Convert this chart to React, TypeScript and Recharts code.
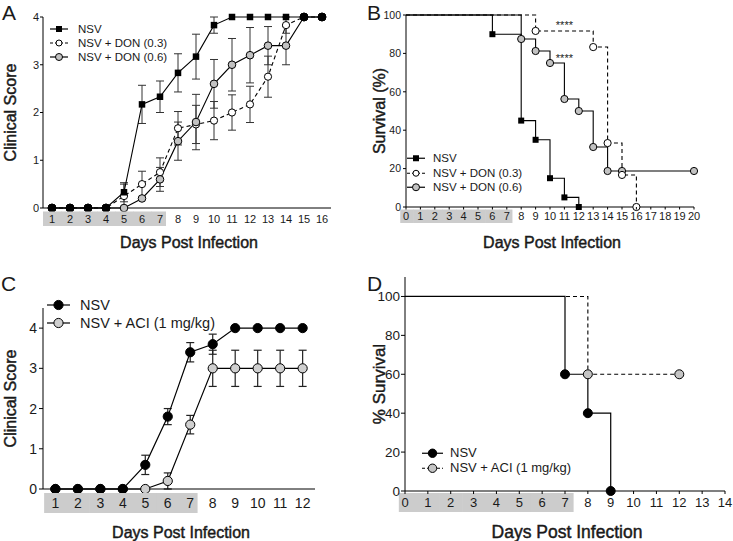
import React from "react";
import { LineChart, Line, XAxis, YAxis, ErrorBar, ReferenceDot } from "recharts";

const FONT = '"Liberation Sans", Arial, Helvetica, sans-serif';
const INK = "#1a1a1a";
const SHADE = "#cccccc";
const GREY = "#c2c2c2";

// ---- A: clinical score, DON treatment ----
const daysA = [1, 2, 3, 4, 5, 6, 7, 8, 9, 10, 11, 12, 13, 14, 15, 16];
const nsvA = [0, 0, 0, 0, 0.33, 2.17, 2.33, 2.83, 3.17, 3.83, 4, 4, 4, 4, 4, 4];
const nsvErrA = [null, null, null, null, 0.2, 0.4, 0.33, 0.4, 0.47, 0.17, null, null, null, null, null, null];
const don03A = [0, 0, 0, 0, 0.25, 0.5, 0.75, 1.67, 1.75, 1.83, 2.0, 2.17, 2.75, 3.83, 4, 4];
const don03ErrA = [null, null, null, null, 0.25, 0.27, 0.3, 0.35, 0.4, 0.4, 0.37, 0.38, 0.43, 0.17, null, null];
const don06A = [0, 0, 0, 0, 0, 0.2, 0.6, 1.4, 1.8, 2.6, 3.0, 3.2, 3.4, 3.4, 4, 4];
const don06ErrA = [null, null, null, null, null, null, 0.25, 0.4, 0.58, 0.51, 0.55, 0.58, 0.4, 0.4, null, null];

// ---- B: survival, DON treatment ----
const nsvDaysB = [0, 6, 8, 9, 10, 11, 12];
const nsvPctB = [100, 90, 45, 35, 15, 5, 0];
const don03DaysB = [0, 9, 13, 14, 15, 16];
const don03PctB = [100, 91.7, 83.3, 33.3, 16.7, 0];
const don06DaysB = [0, 8, 9, 10, 11, 12, 13, 14, 15, 20];
const don06PctB = [100, 87.5, 81.25, 75, 56.25, 50, 31.25, 18.75, 18.75, 18.75];
const sigB = [
  { day: 11, pct: 94.8 },
  { day: 11, pct: 77.6 },
];

// ---- C: clinical score, ACI ----
const daysC = [1, 2, 3, 4, 5, 6, 7, 8, 9, 10, 11, 12];
const nsvC = [0, 0, 0, 0, 0.6, 1.8, 3.4, 3.6, 4, 4, 4, 4];
const nsvErrC = [null, null, null, null, 0.24, 0.2, 0.24, 0.25, null, null, null, null];
const aciC = [0, 0, 0, 0, 0, 0.2, 1.6, 3, 3, 3, 3, 3];
const aciErrC = [null, null, null, null, null, 0.2, 0.23, 0.45, 0.45, 0.45, 0.45, 0.45];

// ---- D: survival, ACI ----
const nsvDaysD = [0, 7, 8, 9];
const nsvPctD = [100, 60, 40, 0];
const aciDaysD = [0, 8, 12];
const aciPctD = [100, 60, 60];

const rowsA = daysA.map((day, i) => ({
  day,
  nsv: nsvA[i],
  nsvErr: nsvErrA[i],
  don03: don03A[i],
  don03Err: don03ErrA[i],
  don06: don06A[i],
  don06Err: don06ErrA[i],
}));
const rowsC = daysC.map((day, i) => ({
  day,
  nsv: nsvC[i],
  nsvErr: nsvErrC[i],
  aci: aciC[i],
  aciErr: aciErrC[i],
}));
const surv = (days: number[], pct: number[]) => days.map((day, i) => ({ day, pct: pct[i] }));

const range = (a: number, b: number) => Array.from({ length: b - a + 1 }, (_, i) => a + i);

type TickOpts = { step: number; from: number; to: number; fs: number; top: number; h: number; mark: number };
const makeTick = (o: TickOpts) => (props: any) => {
  const { x, y, payload } = props;
  const v = payload.value;
  const left = Math.max(v - 0.5, o.from);
  const right = Math.min(v + 0.5, o.to);
  return (
    <g>
      {v < o.to && (
        <rect x={x + (left - v) * o.step} y={y + o.top} width={(right - left) * o.step + 0.6} height={o.h} fill={SHADE} />
      )}
      {o.mark > 0 && <line x1={x} x2={x} y1={y} y2={y + o.mark} stroke="#000" />}
      <text x={x} y={y + o.top + o.h / 2} textAnchor="middle" dominantBaseline="central" fontSize={o.fs} fill={INK} fontFamily={FONT}>
        {v}
      </text>
    </g>
  );
};

// medium-weight look: regular face with a hairline stroke
const titleProps = { fill: INK, stroke: INK, strokeWidth: 0.45, fontFamily: FONT };

const xTitle = (dy: number, fs: number) => ({ viewBox }: any) => (
  <text x={viewBox.x + viewBox.width / 2 + 2} y={viewBox.y + dy} textAnchor="middle" dominantBaseline="central" fontSize={fs} {...titleProps}>
    Days Post Infection
  </text>
);
const yTitle = (text: string, dx: number, fs: number) => ({ viewBox }: any) => {
  const cx = viewBox.x + dx;
  const cy = viewBox.y + viewBox.height / 2;
  return (
    <text x={cx} y={cy} transform={`rotate(-90 ${cx} ${cy})`} textAnchor="middle" dominantBaseline="central" fontSize={fs} {...titleProps}>
      {text}
    </text>
  );
};

const marker = (shape: string, cx: number, cy: number, size: number, fill: string, key?: string) =>
  shape === "square" ? (
    <rect key={key} x={cx - size / 2} y={cy - size / 2} width={size} height={size} fill="#000" />
  ) : (
    <circle key={key} cx={cx} cy={cy} r={size} fill={fill} stroke="#000" strokeWidth={1} />
  );

const nsvDotA = (p: any) => {
  const r = p.payload;
  if (r.nsv === r.don03 && r.nsv === r.don06) return marker("circle", p.cx, p.cy, 4, "#000", `a${p.index}`);
  return marker("square", p.cx, p.cy, 6.5, "#000", `a${p.index}`);
};
const plainDot = (shape: string, size: number, fill: string) => (p: any) => marker(shape, p.cx, p.cy, size, fill, `d${p.index}`);
const survDot = (shape: string, size: number, fill: string) => (p: any) =>
  p.index === 0 ? <g key={`s${p.index}`} /> : marker(shape, p.cx, p.cy, size, fill, `s${p.index}`);

const starLabel = ({ viewBox }: any) => (
  <text x={viewBox.x + viewBox.width / 2} y={viewBox.y + viewBox.height / 2 + 4} textAnchor="middle" fontSize={11} fill={INK} fontFamily={FONT}>
    ****
  </text>
);

type KeyItem = { name: string; dash?: string; shape: string; fill: string; size: number };
function KeyBox({ items, left, top, rowH, symW, gap, fs }: { items: KeyItem[]; left: number; top: number; rowH: number; symW: number; gap: number; fs: number }) {
  return (
    <div style={{ position: "absolute", left, top, fontFamily: FONT, fontSize: fs, color: INK }}>
      {items.map((it) => (
        <div key={it.name} style={{ display: "flex", alignItems: "center", height: rowH }}>
          <svg width={symW} height={rowH} style={{ display: "block", overflow: "visible" }}>
            <line x1={0} x2={symW} y1={rowH / 2} y2={rowH / 2} stroke="#000" strokeWidth={1.2} strokeDasharray={it.dash} />
            {marker(it.shape, symW / 2, rowH / 2, it.size, it.fill)}
          </svg>
          <span style={{ marginLeft: gap, whiteSpace: "nowrap", lineHeight: `${rowH}px` }}>{it.name}</span>
        </div>
      ))}
    </div>
  );
}

const letter = (ch: string, left: number, top: number) => (
  <div style={{ position: "absolute", left, top, fontSize: 21, lineHeight: "21px", fontFamily: FONT, color: INK }}>{ch}</div>
);

const axisLine = { stroke: "#000", strokeWidth: 1 };
const tickLine = { stroke: "#000" };

export default function App() {
  return (
    <div style={{ position: "absolute", left: 0, top: 0, width: 733, height: 541, background: "#fff", fontFamily: FONT }}>
      {/* A */}
      <div style={{ position: "absolute", left: 0, top: 0, width: 366, height: 270 }}>
        <LineChart width={366} height={270} data={rowsA} margin={{ top: 17, right: 35, left: 0, bottom: 0 }}>
          <XAxis
            dataKey="day"
            type="number"
            domain={[0.5, 16.5]}
            ticks={daysA}
            interval={0}
            height={62}
            tickLine={false}
            tickSize={0}
            tickMargin={0}
            axisLine={axisLine}
            tick={makeTick({ step: 18, from: 0.5, to: 7.3, fs: 11, top: 3.5, h: 14.5, mark: 0 })}
            label={xTitle(34, 16)}
          />
          <YAxis
            type="number"
            domain={[0, 4]}
            ticks={[0, 1, 2, 3, 4]}
            width={43}
            tickSize={3}
            tickMargin={1}
            axisLine={axisLine}
            tickLine={tickLine}
            tick={{ fontSize: 11, fill: INK, fontFamily: FONT }}
            label={yTitle("Clinical Score", 10, 16)}
          />
          <Line dataKey="don03" stroke="#000" strokeWidth={1.1} strokeDasharray="4 3" isAnimationActive={false} dot={plainDot("circle", 3.6, "#fff")} activeDot={false}>
            <ErrorBar dataKey="don03Err" width={4} stroke="#333" strokeWidth={1} direction="y" />
          </Line>
          <Line dataKey="don06" stroke="#000" strokeWidth={1.1} isAnimationActive={false} dot={plainDot("circle", 3.8, GREY)} activeDot={false}>
            <ErrorBar dataKey="don06Err" width={4} stroke="#333" strokeWidth={1} direction="y" />
          </Line>
          <Line dataKey="nsv" stroke="#000" strokeWidth={1.1} isAnimationActive={false} dot={nsvDotA} activeDot={false}>
            <ErrorBar dataKey="nsvErr" width={4} stroke="#333" strokeWidth={1} direction="y" />
          </Line>
        </LineChart>
        <KeyBox
          left={50}
          top={22}
          rowH={14}
          symW={18}
          gap={10}
          fs={11.5}
          items={[
            { name: "NSV", shape: "square", fill: "#000", size: 6 },
            { name: "NSV + DON (0.3)", dash: "3 2", shape: "circle", fill: "#fff", size: 3 },
            { name: "NSV + DON (0.6)", shape: "circle", fill: GREY, size: 3.5 },
          ]}
        />
        {letter("A", 2, 2)}
      </div>

      {/* B */}
      <div style={{ position: "absolute", left: 366, top: 0, width: 367, height: 270 }}>
        <LineChart width={367} height={270} margin={{ top: 15, right: 39, left: 0, bottom: 0 }}>
          <XAxis
            dataKey="day"
            type="number"
            domain={[0, 20]}
            ticks={range(0, 20)}
            interval={0}
            height={63}
            tickLine={false}
            tickSize={0}
            tickMargin={0}
            axisLine={axisLine}
            tick={makeTick({ step: 14.4, from: -0.4, to: 7.35, fs: 11, top: 2.5, h: 13.5, mark: 2.5 })}
            label={xTitle(35, 16)}
          />
          <YAxis
            type="number"
            dataKey="pct"
            domain={[0, 100]}
            ticks={[0, 20, 40, 60, 80, 100]}
            width={40}
            tickSize={3}
            tickMargin={2}
            axisLine={axisLine}
            tickLine={tickLine}
            tick={{ fontSize: 10.5, fill: INK, fontFamily: FONT }}
            label={yTitle("Survival (%)", 13, 16)}
          />
          <Line data={surv(nsvDaysB, nsvPctB)} dataKey="pct" type="stepAfter" stroke="#000" strokeWidth={1.1} isAnimationActive={false} dot={survDot("square", 6, "#000")} activeDot={false} />
          <Line data={surv(don06DaysB, don06PctB)} dataKey="pct" type="stepAfter" stroke="#000" strokeWidth={1.1} isAnimationActive={false} dot={survDot("circle", 3.6, GREY)} activeDot={false} />
          <Line data={surv(don03DaysB, don03PctB)} dataKey="pct" type="stepAfter" stroke="#000" strokeWidth={1.1} strokeDasharray="4 3" isAnimationActive={false} dot={survDot("circle", 3.6, "#fff")} activeDot={false} />
          {sigB.map((s, i) => (
            <ReferenceDot key={i} x={s.day} y={s.pct} r={0} fill="none" stroke="none" label={starLabel} />
          ))}
        </LineChart>
        <KeyBox
          left={41}
          top={151}
          rowH={14.5}
          symW={18}
          gap={8}
          fs={11.5}
          items={[
            { name: "NSV", shape: "square", fill: "#000", size: 6 },
            { name: "NSV + DON (0.3)", dash: "3 2", shape: "circle", fill: "#fff", size: 3 },
            { name: "NSV + DON (0.6)", shape: "circle", fill: GREY, size: 3.5 },
          ]}
        />
        {letter("B", 1, 2)}
      </div>

      {/* C */}
      <div style={{ position: "absolute", left: 0, top: 270, width: 366, height: 271 }}>
        <LineChart width={366} height={271} data={rowsC} margin={{ top: 38, right: 51, left: 0, bottom: 0 }}>
          <XAxis
            dataKey="day"
            type="number"
            domain={[0.45, 12.55]}
            ticks={daysC}
            interval={0}
            height={52}
            tickLine={false}
            tickSize={0}
            tickMargin={0}
            axisLine={axisLine}
            tick={makeTick({ step: 22.48, from: 0.45, to: 7.3, fs: 14, top: 4, h: 20, mark: 0 })}
            label={xTitle(43, 16)}
          />
          <YAxis
            type="number"
            domain={[0, 4.5]}
            ticks={[0, 1, 2, 3, 4]}
            width={43}
            tickSize={4}
            tickMargin={2}
            axisLine={axisLine}
            tickLine={tickLine}
            tick={{ fontSize: 14, fill: INK, fontFamily: FONT }}
            label={yTitle("Clinical Score", 10, 16)}
          />
          <Line dataKey="aci" stroke="#000" strokeWidth={1.2} isAnimationActive={false} dot={plainDot("circle", 4.6, "#cfcfcf")} activeDot={false}>
            <ErrorBar dataKey="aciErr" width={4} stroke="#222" strokeWidth={1.2} direction="y" />
          </Line>
          <Line dataKey="nsv" stroke="#000" strokeWidth={1.2} isAnimationActive={false} dot={plainDot("circle", 4.6, "#000")} activeDot={false}>
            <ErrorBar dataKey="nsvErr" width={4} stroke="#222" strokeWidth={1.2} direction="y" />
          </Line>
        </LineChart>
        <KeyBox
          left={47}
          top={26}
          rowH={18}
          symW={23}
          gap={10}
          fs={14.5}
          items={[
            { name: "NSV", shape: "circle", fill: "#000", size: 4.6 },
            { name: "NSV + ACI (1 mg/kg)", shape: "circle", fill: "#cfcfcf", size: 4.6 },
          ]}
        />
        {letter("C", 1, 3)}
      </div>

      {/* D */}
      <div style={{ position: "absolute", left: 366, top: 270, width: 367, height: 271 }}>
        <LineChart width={367} height={271} margin={{ top: 7, right: 8, left: 0, bottom: 0 }}>
          <XAxis
            dataKey="day"
            type="number"
            domain={[0, 14]}
            ticks={range(0, 14)}
            interval={0}
            height={50}
            tickLine={false}
            tickSize={0}
            tickMargin={0}
            axisLine={axisLine}
            tick={makeTick({ step: 22.857, from: -0.27, to: 7.35, fs: 13, top: 2, h: 19, mark: 3 })}
            label={xTitle(41, 17.5)}
          />
          <YAxis
            type="number"
            dataKey="pct"
            domain={[0, 110]}
            ticks={[0, 20, 40, 60, 80, 100]}
            width={39}
            tickSize={4}
            tickMargin={1}
            axisLine={axisLine}
            tickLine={tickLine}
            tick={{ fontSize: 13.5, fill: INK, fontFamily: FONT }}
            label={yTitle("% Survival", 13, 17)}
          />
          <Line data={surv(aciDaysD, aciPctD)} dataKey="pct" type="stepAfter" stroke="#000" strokeWidth={1.1} strokeDasharray="4 3" isAnimationActive={false} dot={survDot("circle", 4.5, "#c4c4c4")} activeDot={false} />
          <Line data={surv(nsvDaysD, nsvPctD)} dataKey="pct" type="stepAfter" stroke="#000" strokeWidth={1.2} isAnimationActive={false} dot={survDot("circle", 4.5, "#000")} activeDot={false} />
        </LineChart>
        <KeyBox
          left={56}
          top={176}
          rowH={14.5}
          symW={21}
          gap={7}
          fs={13}
          items={[
            { name: "NSV", shape: "circle", fill: "#000", size: 4.2 },
            { name: "NSV + ACI (1 mg/kg)", dash: "3 2", shape: "circle", fill: "#c4c4c4", size: 4.2 },
          ]}
        />
        {letter("D", 1, 3)}
      </div>
    </div>
  );
}
